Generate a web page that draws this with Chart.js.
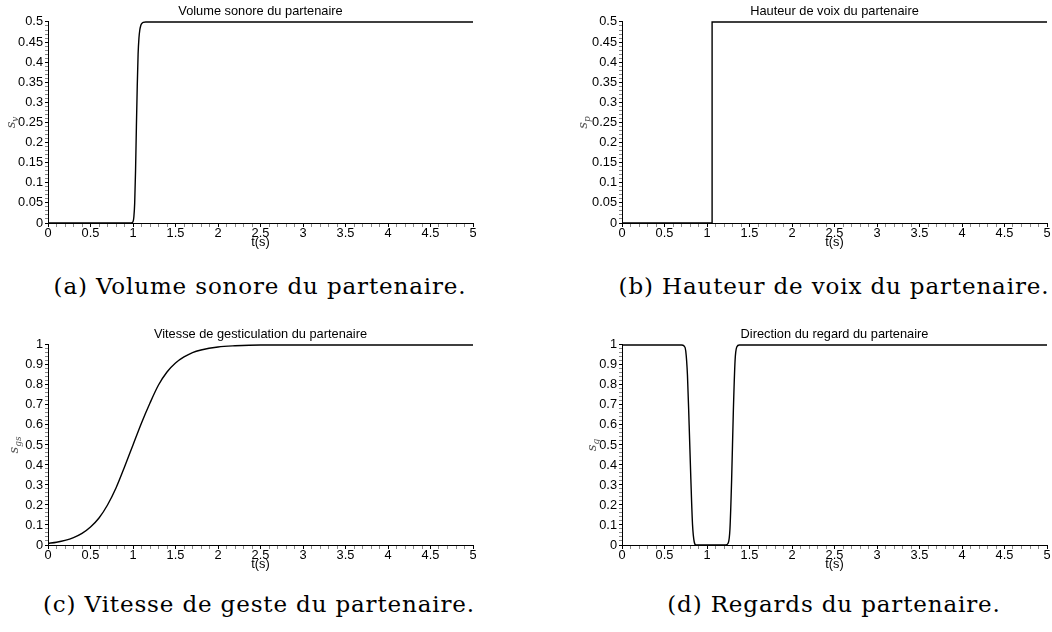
<!DOCTYPE html>
<html><head><meta charset="utf-8">
<script src="https://cdn.jsdelivr.net/npm/chart.js@4.4.0/dist/chart.umd.min.js"></script>
<style>
body{margin:0;background:#fff;width:1052px;height:632px;position:relative;overflow:hidden}
canvas{position:absolute}
.cap{position:absolute;width:700px;text-align:center;font-family:"DejaVu Serif";font-size:23px;line-height:23px;color:#000;white-space:nowrap}
</style></head><body>
<canvas id="ca" width="481" height="250" style="left:0;top:0"></canvas>
<canvas id="cb" width="478" height="250" style="left:574px;top:0"></canvas>
<canvas id="cc" width="481" height="249" style="left:0;top:323px"></canvas>
<canvas id="cd" width="478" height="249" style="left:574px;top:323px"></canvas>
<div class="cap" id="capa" style="left:-90px;top:274.5px"><span></span></div>
<div class="cap" id="capb" style="left:484px;top:274.5px"><span></span></div>
<div class="cap" id="capc" style="left:-91px;top:592.5px"><span></span></div>
<div class="cap" id="capd" style="left:484px;top:592.5px"><span></span></div>
<script>
// ---- data ----
const tVolume   = [0, 0.5, 0.98, 1.0, 1.01, 1.02, 1.03, 1.04, 1.05, 1.06, 1.07, 1.08, 1.09, 1.1, 1.12, 1.15, 5];
const volume    = [0, 0,   0,    0.003,0.015,0.05, 0.13, 0.24, 0.34, 0.42, 0.46, 0.48, 0.49, 0.495,0.499,0.5, 0.5];

const tPitch    = [0, 1.06, 1.06, 5];
const pitch     = [0, 0,    0.5,  0.5];

const tGesture  = [0, 0.1, 0.2, 0.3, 0.4, 0.5, 0.6, 0.7, 0.8, 0.9, 1.0, 1.1, 1.2, 1.3, 1.4, 1.5, 1.6, 1.7, 1.8, 2.0, 2.2, 2.5, 3, 5];
const gesture   = [0.008,0.014,0.023,0.037,0.058,0.09,0.135,0.2,0.285,0.39,0.5,0.61,0.71,0.8,0.865,0.91,0.94,0.962,0.975,0.99,0.996,1,1,1];

const tGaze     = [0, 0.7, 0.73, 0.75, 0.77, 0.79, 0.81, 0.83, 0.85, 0.87, 0.9, 1.22, 1.25, 1.27, 1.29, 1.31, 1.33, 1.35, 1.38, 5];
const gaze      = [1, 1,   0.995,0.97, 0.85, 0.6,  0.33, 0.1,  0.015,0,    0,   0,    0.01, 0.08, 0.33, 0.67, 0.92, 0.99, 1,    1];

const chartTitles = ["Volume sonore du partenaire", "Hauteur de voix du partenaire",
                     "Vitesse de gesticulation du partenaire", "Direction du regard du partenaire"];
const captions = ["(a) Volume sonore du partenaire.", "(b) Hauteur de voix du partenaire.",
                  "(c) Vitesse de geste du partenaire.", "(d) Regards du partenaire."];
const yAxisNames = [["s","v"], ["s","p"], ["s","gs"], ["s","g"]];
const xAxisName = "t(s)";
const xTickStep = 0.5, xMinorStep = 0.1, xMax = 5;
const yMaxes = [0.5, 0.5, 1, 1];
const yTickSteps = [0.05, 0.05, 0.1, 0.1];
const yMinorSteps = [0.01, 0.01, 0.02, 0.02];

// ---- rendering ----
const FONT = "Liberation Sans";
function isMajor(v, step){ return Math.abs(v/step - Math.round(v/step)) < 1e-6; }
function fmt(v){ return String(parseFloat(v.toFixed(2))); }

const yLabelPlugin = {
  id: 'ylab',
  afterDraw(chart, args, opts){
    const {ctx, chartArea} = chart;
    ctx.save();
    ctx.translate(chartArea.left + opts.dx, (chartArea.top + chartArea.bottom)/2);
    ctx.rotate(-Math.PI/2);
    ctx.fillStyle = '#555';
    ctx.textBaseline = 'alphabetic';
    ctx.font = 'italic 13px "DejaVu Serif"';
    const w1 = ctx.measureText(opts.main).width;
    ctx.font = 'italic 9px "DejaVu Serif"';
    const w2 = ctx.measureText(opts.sub).width;
    const x0 = -(w1 + w2)/2;
    ctx.font = 'italic 13px "DejaVu Serif"';
    ctx.fillText(opts.main, x0, 3);
    ctx.font = 'italic 9px "DejaVu Serif"';
    ctx.fillText(opts.sub, x0 + w1, 6);
    ctx.restore();
  }
};

function makeChart(id, t, v, idx, smooth, dx, padRight){
  const ymax = yMaxes[idx], ystep = yTickSteps[idx], yminor = yMinorSteps[idx];
  return new Chart(document.getElementById(id), {
    type: 'line',
    data: { datasets: [{
      data: t.map((x,i)=>({x:x, y:v[i]})),
      borderColor: '#000', borderWidth: 1.4, pointRadius: 0,
      tension: 0, cubicInterpolationMode: smooth ? 'monotone' : 'default',
      clip: false, fill: false
    }]},
    options: {
      responsive: false, animation: false, devicePixelRatio: 1,
      layout: { padding: { left: 0, right: padRight, top: 0, bottom: 0 } },
      plugins: {
        legend: { display: false }, tooltip: { enabled: false },
        title: { display: true, text: chartTitles[idx], fullSize: false, color: '#000',
                 font: { family: FONT, size: 12.8, weight: 'normal' }, padding: { top: 4, bottom: 2.6 } },
        ylab: { main: yAxisNames[idx][0], sub: yAxisNames[idx][1], dx: dx }
      },
      scales: {
        x: {
          type: 'linear', min: 0, max: xMax,
          afterFit: s => { s.height = 27; },
          ticks: { stepSize: xMinorStep, autoSkip: false, maxRotation: 0, minRotation: 0, padding: -1,
                   color: '#000', font: { family: FONT, size: 12.8 },
                   callback: val => isMajor(val, xTickStep) ? fmt(val) : '' },
          grid: { drawOnChartArea: false, drawTicks: true, tickLength: 4,
                  color: c => (c.tick && isMajor(c.tick.value, xTickStep)) ? '#000' : '#888' },
          border: { color: '#000', width: 1 },
          title: { display: true, text: xAxisName, color: '#000', padding: { top: 0, bottom: 0 },
                   font: { family: FONT, size: 12.8 } }
        },
        y: {
          min: 0, max: ymax,
          afterFit: s => { s.width = 48; },
          ticks: { stepSize: yminor, autoSkip: false, padding: 2, color: '#000',
                   font: { family: FONT, size: 12.8 },
                   callback: val => isMajor(val, ystep) ? fmt(val) : '' },
          grid: { drawOnChartArea: false, drawTicks: true, tickLength: 3,
                  color: c => (c.tick && isMajor(c.tick.value, ystep)) ? '#000' : '#888' },
          border: { color: '#000', width: 1 }
        }
      }
    },
    plugins: [yLabelPlugin]
  });
}

makeChart('ca', tVolume, volume, 0, true, -36, 8);
makeChart('cb', tPitch, pitch, 1, false, -38, 5);
makeChart('cc', tGesture, gesture, 2, true, -33, 8);
makeChart('cd', tGaze, gaze, 3, true, -29, 5);

// captions: widen letter spacing so caption (c) spans ~432px as in the reference
const capIds = ['capa','capb','capc','capd'];
capIds.forEach((id,i)=>{ document.querySelector('#'+id+' span').textContent = captions[i]; });
const refSpan = document.querySelector('#capc span');
const natural = refSpan.getBoundingClientRect().width;
const ls = (432 - natural) / captions[2].length;
capIds.forEach(id=>{ document.querySelector('#'+id+' span').style.letterSpacing = ls + 'px'; });
</script>
</body></html>
